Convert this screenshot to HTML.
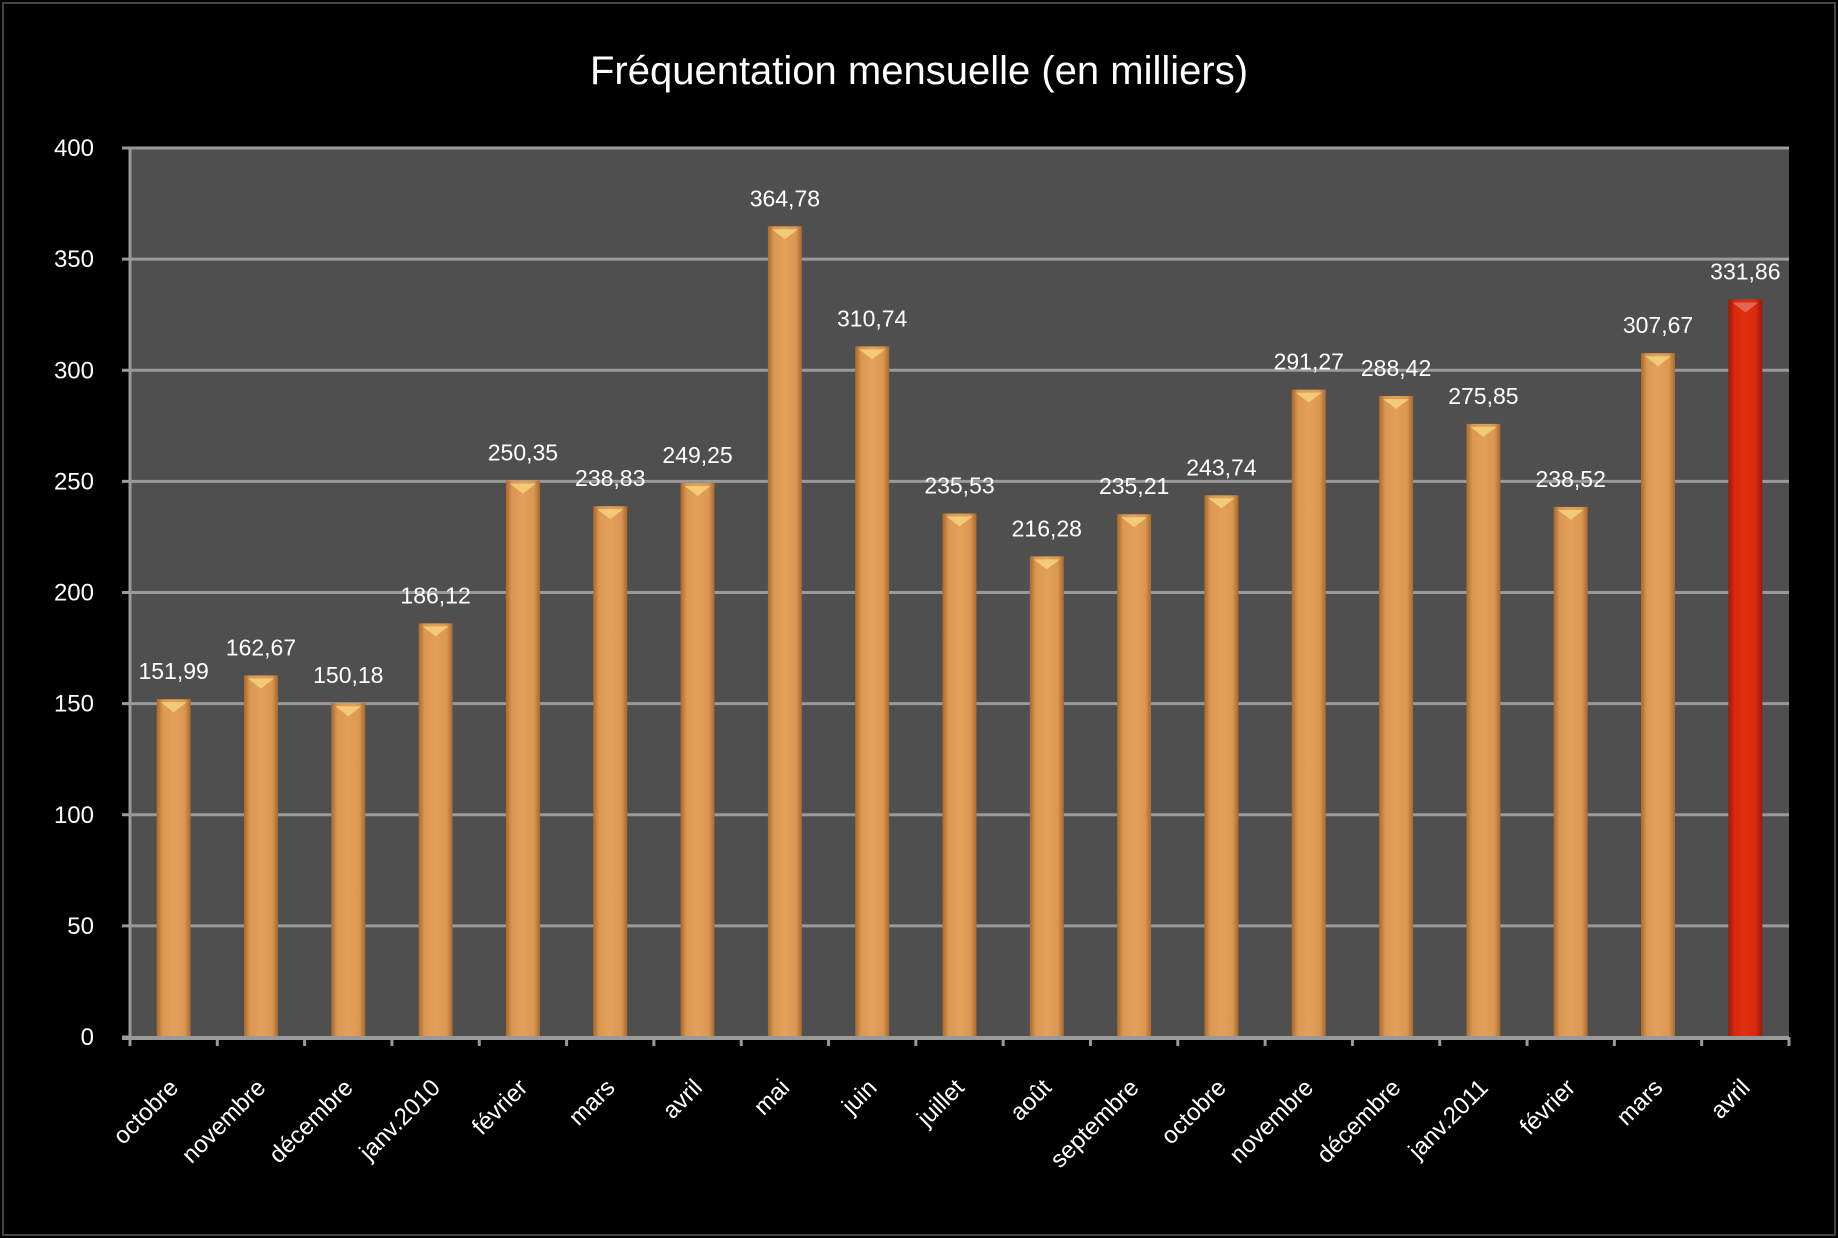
<!DOCTYPE html>
<html><head><meta charset="utf-8"><style>
html,body{margin:0;padding:0;background:#000;}
svg{display:block;font-family:"Liberation Sans",sans-serif;}
</style></head><body>
<svg id="chart" width="1838" height="1238" viewBox="0 0 1838 1238">
<defs>
<linearGradient id="og" x1="0" x2="1" y1="0" y2="0">
<stop offset="0" stop-color="#a8692e"/><stop offset="0.18" stop-color="#dc9852"/><stop offset="0.5" stop-color="#e3a05a"/><stop offset="0.82" stop-color="#dc9852"/><stop offset="1" stop-color="#a8692e"/>
</linearGradient>
<linearGradient id="rg" x1="0" x2="1" y1="0" y2="0">
<stop offset="0" stop-color="#9a1a08"/><stop offset="0.2" stop-color="#d82a0c"/><stop offset="0.5" stop-color="#e0300e"/><stop offset="0.8" stop-color="#d82a0c"/><stop offset="1" stop-color="#9a1a08"/>
</linearGradient>
</defs>
<rect x="3" y="3" width="1832" height="1232" fill="#000" stroke="#444" stroke-width="2"/>
<text x="919" y="84" fill="#fff" font-size="40" text-anchor="middle">Fréquentation mensuelle (en milliers)</text>
<rect x="130" y="148" width="1659" height="889" fill="#4f4f4f"/>
<g id="grid"></g>
<g id="bars"></g>
<g id="labels"></g>
<g id="xaxis"></g>
</svg>
<script>
const categories = ["octobre","novembre","décembre","janv.2010","février","mars","avril","mai","juin","juillet","août","septembre","octobre","novembre","décembre","janv.2011","février","mars","avril"];
const values = [151.99,162.67,150.18,186.12,250.35,238.83,249.25,364.78,310.74,235.53,216.28,235.21,243.74,291.27,288.42,275.85,238.52,307.67,331.86];
const valueLabels = ["151,99","162,67","150,18","186,12","250,35","238,83","249,25","364,78","310,74","235,53","216,28","235,21","243,74","291,27","288,42","275,85","238,52","307,67","331,86"];
const yTicks = [0,50,100,150,200,250,300,350,400];
const highlightIndex = 18;

const NS = "http://www.w3.org/2000/svg";
const X0 = 130, X1 = 1789, Y0 = 1037, Y1 = 148, YMAX = 400;
const step = (X1 - X0) / categories.length;
const barW = 34;
function y(v){ return Y0 - (v / YMAX) * (Y0 - Y1); }
function xc(i){ return X0 + step * (i + 0.5); }
function mk(tag, attrs, parent){ const e = document.createElementNS(NS, tag); for (const k in attrs) e.setAttribute(k, attrs[k]); parent.appendChild(e); return e; }

const grid = document.getElementById("grid");
yTicks.forEach(t => {
  if (t > 0) {
    const l = mk("line", {x1: X0, x2: X1, y1: y(t), y2: y(t), stroke: "#9a9a9a", "stroke-width": 3}, grid);
    
    
  }
  const tk = mk("line", {x1: X0 - 8, x2: X0, y1: y(t), y2: y(t), stroke: "#9a9a9a", "stroke-width": 3}, grid);
  
  
  const tx = mk("text", {x: 94, y: y(t) + 8, fill: "#fff", "font-size": 24, "text-anchor": "end"}, grid);
  tx.textContent = t;
  
  
});

const bars = document.getElementById("bars");
const labels = document.getElementById("labels");
values.forEach((v, i) => {
  const hi = i === highlightIndex;
  const r = mk("rect", {x: xc(i) - barW/2, y: y(v), width: barW, height: Y0 - y(v), fill: hi ? "url(#rg)" : "url(#og)"}, bars);
  
  
  const cap = mk("path", {d: `M${xc(i)-barW/2+4} ${y(v)+3} L${xc(i)+barW/2-4} ${y(v)+3} L${xc(i)} ${y(v)+13} Z`, fill: hi ? "#e66a5a" : "#f3cf7a", opacity: 0.9}, bars);
  
  
  const t = mk("text", {x: xc(i), y: y(v) - 20, fill: "#fff", "font-size": 23, "text-anchor": "middle"}, labels);
  t.textContent = valueLabels[i];
  
  
});

const xa = document.getElementById("xaxis");
const ax = mk("line", {x1: X0 - 8, x2: X1, y1: Y0 + 1, y2: Y0 + 1, stroke: "#9a9a9a", "stroke-width": 4}, xa);


const ay = mk("line", {x1: X0, x2: X0, y1: Y1, y2: Y0, stroke: "#9a9a9a", "stroke-width": 3}, xa);


for (let i = 0; i <= categories.length; i++) {
  const tk = mk("line", {x1: X0 + step * i, x2: X0 + step * i, y1: Y0, y2: Y0 + 9, stroke: "#9a9a9a", "stroke-width": 3}, xa);
  
  
}
categories.forEach((c, i) => {
  const ex = xc(i) + 6, ey = Y0 + 52;
  const t = mk("text", {x: ex, y: ey, fill: "#fff", "font-size": 24, "text-anchor": "end", transform: `rotate(-45 ${ex} ${ey})`}, xa);
  t.textContent = c;
  
  
});
</script>
</body></html>
